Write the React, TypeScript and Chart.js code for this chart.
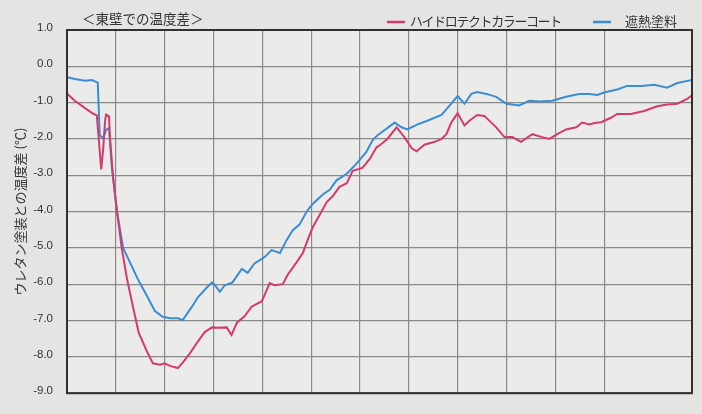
import React, { useEffect, useRef } from "react";
import { Chart, registerables } from "chart.js";

Chart.register(...registerables);

// x: elapsed time in grid divisions (unlabelled axis), y: temperature difference (°C)
const chartTitle = "＜東壁での温度差＞";
const yAxisTitle = "ウレタン塗装との温度差 (℃)";
const seriesNames = ["ハイドロテクトカラーコート", "遮熱塗料"];
const yTicks = [1, 0, -1, -2, -3, -4, -5, -6, -7, -8, -9];
const xMax = 12.8;

const hydroX = [
  0.0, 0.16, 0.37, 0.53, 0.61, 0.65, 0.7, 0.74, 0.78, 0.8, 0.86, 0.88, 0.94, 1.02, 1.12, 1.23, 1.37, 1.47,
  1.64, 1.76, 1.9, 2.0, 2.11, 2.27, 2.37, 2.52, 2.68, 2.82, 2.97, 3.09, 3.27, 3.37, 3.48, 3.64, 3.78, 3.99,
  4.05, 4.15, 4.25, 4.42, 4.52, 4.7, 4.83, 4.93, 5.03, 5.17, 5.32, 5.44, 5.58, 5.73, 5.85, 6.05, 6.2, 6.34,
  6.4, 6.56, 6.75, 6.91, 7.06, 7.16, 7.32, 7.53, 7.67, 7.77, 7.87, 8.0, 8.14, 8.24, 8.4, 8.55, 8.59, 8.79,
  8.96, 9.12, 9.3, 9.53, 9.73, 9.88, 10.04, 10.22, 10.43, 10.55, 10.7, 10.8, 10.94, 11.15, 11.27, 11.55,
  11.82, 12.09, 12.29, 12.5, 12.7, 12.8,
];
const hydroY = [
  -0.75, -0.95, -1.15, -1.3, -1.35, -2.0, -2.84, -2.3, -1.5, -1.33, -1.38, -1.95, -3.0, -3.96, -5.0, -5.86,
  -6.74, -7.34, -7.86, -8.18, -8.22, -8.18, -8.25, -8.31, -8.16, -7.9, -7.58, -7.32, -7.19, -7.2, -7.19,
  -7.4, -7.06, -6.88, -6.62, -6.47, -6.29, -5.97, -6.03, -6.0, -5.74, -5.4, -5.14, -4.78, -4.44, -4.1,
  -3.74, -3.58, -3.32, -3.22, -2.88, -2.8, -2.55, -2.23, -2.18, -2.0, -1.68, -1.95, -2.26, -2.34, -2.16,
  -2.08, -2.0, -1.87, -1.55, -1.29, -1.63, -1.5, -1.34, -1.37, -1.42, -1.68, -1.95, -1.95, -2.08, -1.87,
  -1.95, -2.0, -1.87, -1.74, -1.68, -1.55, -1.6, -1.56, -1.54, -1.41, -1.31, -1.31, -1.23, -1.1, -1.05,
  -1.03, -0.9, -0.8,
];

const heatX = [
  0.0, 0.16, 0.37, 0.51, 0.63, 0.67, 0.74, 0.8, 0.86, 0.92, 1.02, 1.15, 1.29, 1.45, 1.66, 1.8, 1.96, 2.11,
  2.27, 2.37, 2.56, 2.68, 2.86, 2.97, 3.03, 3.13, 3.23, 3.39, 3.58, 3.7, 3.84, 4.05, 4.19, 4.36, 4.5, 4.62,
  4.76, 4.91, 5.03, 5.24, 5.38, 5.52, 5.73, 5.93, 6.13, 6.26, 6.36, 6.5, 6.71, 6.85, 6.97, 7.18, 7.38,
  7.67, 7.87, 8.0, 8.14, 8.28, 8.4, 8.59, 8.79, 9.0, 9.26, 9.47, 9.67, 9.94, 10.22, 10.49, 10.7, 10.86,
  11.0, 11.27, 11.47, 11.76, 12.03, 12.29, 12.5, 12.78,
];
const heatY = [
  -0.3, -0.35, -0.4, -0.38, -0.45, -1.9, -1.98, -1.75, -1.7, -2.8, -3.96, -5.0, -5.4, -5.86, -6.38, -6.74,
  -6.9, -6.94, -6.94, -6.99, -6.62, -6.36, -6.1, -5.95, -6.03, -6.21, -6.03, -5.95, -5.58, -5.69, -5.43,
  -5.25, -5.06, -5.14, -4.78, -4.52, -4.36, -4.0, -3.79, -3.53, -3.4, -3.14, -2.96, -2.68, -2.36, -2.03,
  -1.9, -1.76, -1.55, -1.68, -1.74, -1.6, -1.5, -1.34, -1.03, -0.82, -1.03, -0.76, -0.71, -0.76, -0.84,
  -1.03, -1.08, -0.95, -0.97, -0.95, -0.84, -0.76, -0.76, -0.79, -0.72, -0.64, -0.54, -0.54, -0.51, -0.59,
  -0.46, -0.38,
];

const seriesColors = ["#d43a6c", "#3a8dd4"];

const decorPlugin = {
  id: "decor",
  beforeDraw(chart: any) {
    const { ctx, chartArea: a, width, height } = chart;
    ctx.save();
    ctx.fillStyle = "#e4e4e2";
    ctx.fillRect(0, 0, width, height);
    ctx.fillStyle = "#ebebea";
    ctx.fillRect(a.left, a.top, a.right - a.left, a.bottom - a.top);
    ctx.restore();
  },
  afterDraw(chart: any) {
    const { ctx, chartArea: a } = chart;
    ctx.save();
    ctx.strokeStyle = "#303030";
    ctx.lineWidth = 2;
    ctx.strokeRect(a.left, a.top, a.right - a.left, a.bottom - a.top);

    ctx.fillStyle = "#333";
    ctx.textBaseline = "middle";
    ctx.textAlign = "left";
    ctx.font = '13.5px "Noto Sans CJK JP"';
    ctx.fillText(chartTitle, 82, 19);

    const items = [
      { lx: 387, tx: 410, spacing: "-1.4px" },
      { lx: 593, tx: 625, spacing: "0px" },
    ];
    chart.data.datasets.forEach((ds: any, i: number) => {
      const it = items[i];
      ctx.strokeStyle = ds.borderColor;
      ctx.lineWidth = 2.5;
      ctx.beginPath();
      ctx.moveTo(it.lx, 22);
      ctx.lineTo(it.lx + 18, 22);
      ctx.stroke();
      ctx.fillStyle = "#333";
      ctx.font = '13px "Noto Sans CJK JP"';
      (ctx as any).letterSpacing = it.spacing;
      ctx.fillText(ds.label, it.tx, 21);
      (ctx as any).letterSpacing = "0px";
    });
    ctx.restore();
  },
};

export default function App() {
  const ref = useRef<HTMLCanvasElement | null>(null);

  useEffect(() => {
    if (!ref.current) return;
    const chart = new Chart(ref.current, {
      type: "line",
      data: {
        datasets: [
          {
            label: seriesNames[0],
            data: hydroX.map((x, i) => ({ x, y: hydroY[i] })),
            borderColor: seriesColors[0],
            borderWidth: 2,
            pointRadius: 0,
            tension: 0,
          },
          {
            label: seriesNames[1],
            data: heatX.map((x, i) => ({ x, y: heatY[i] })),
            borderColor: seriesColors[1],
            borderWidth: 2,
            pointRadius: 0,
            tension: 0,
          },
        ],
      },
      options: {
        animation: false,
        responsive: false,
        events: [],
        layout: { padding: { top: 30, right: 10, bottom: 0, left: 0 } },
        plugins: {
          legend: { display: false },
          title: { display: false },
          tooltip: { enabled: false },
        },
        scales: {
          x: {
            type: "linear",
            min: 0,
            max: xMax,
            afterFit: (s: any) => {
              s.height = 3;
            },
            ticks: { display: false, stepSize: 1, autoSkip: false },
            grid: { color: "#8a8a8a", lineWidth: 1.2, drawTicks: false },
            border: { display: false },
          },
          y: {
            min: yTicks[yTicks.length - 1],
            max: yTicks[0],
            afterFit: (s: any) => {
              s.width = 67;
            },
            ticks: {
              stepSize: 1,
              padding: 14,
              labelOffset: -2,
              color: "#333",
              font: { family: '"Liberation Sans", Arial, sans-serif', size: 11.5 },
              callback: (v: any) => Number(v).toFixed(1),
            },
            grid: { color: "#8a8a8a", lineWidth: 1.2, drawTicks: false },
            border: { display: false },
            title: {
              display: true,
              text: yAxisTitle,
              color: "#333",
              padding: { top: 12, bottom: 0 },
              font: { family: '"Noto Sans CJK JP"', size: 13 },
            },
          },
        },
      },
      plugins: [decorPlugin],
    });
    return () => chart.destroy();
  }, []);

  return (
    <div style={{ position: "fixed", left: 0, top: 0, width: 702, height: 414, overflow: "hidden" }}>
      <canvas ref={ref} width={702} height={414} style={{ display: "block" }} />
    </div>
  );
}
